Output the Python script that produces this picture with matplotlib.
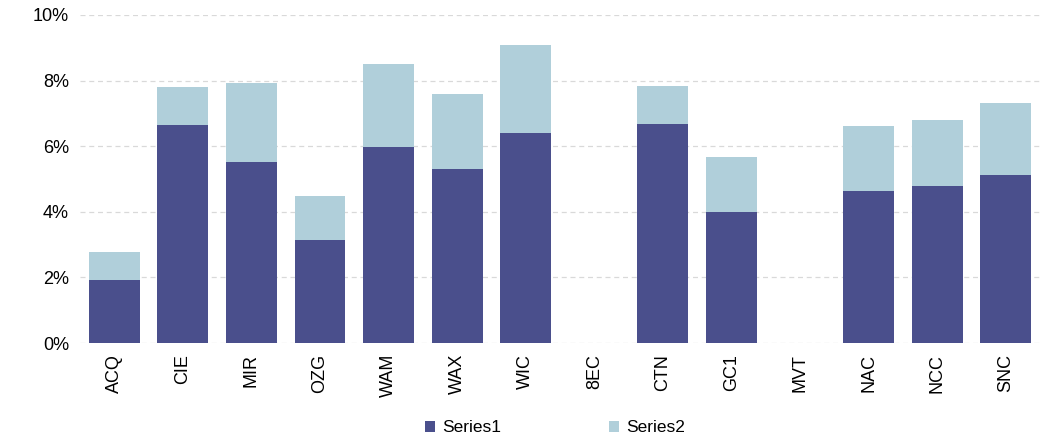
import matplotlib.pyplot as plt
import numpy as np
from matplotlib.ticker import PercentFormatter

plt.rcParams['font.family'] = ['Liberation Sans', 'DejaVu Sans']

# Valori (%)
categories = ['ACQ', 'CIE', 'MIR', 'OZG', 'WAM', 'WAX', 'WIC', '8EC', 'CTN', 'GC1', 'MVT', 'NAC', 'NCC', 'SNC']
series1 = [1.92, 6.65, 5.53, 3.14, 5.97, 5.30, 6.40, 0, 6.68, 3.99, 0, 4.63, 4.78, 5.12]
series2 = [0.85, 1.15, 2.40, 1.34, 2.53, 2.29, 2.69, 0, 1.16, 1.68, 0, 1.99, 2.02, 2.20]

fig = plt.figure(figsize=(10.53, 4.42), dpi=100)
ax = fig.add_axes([80 / 1053, 1 - 343 / 442, 960 / 1053, 328 / 442])

x = np.arange(len(categories))
ax.bar(x, series1, width=0.74, color='#4A4F8C', label='Series1', zorder=3)
ax.bar(x, series2, width=0.74, bottom=series1, color='#B0CFDA', label='Series2', zorder=3)

ax.set_xlim(-0.5, len(categories) - 0.5)
ax.set_ylim(0, 10)
ax.set_yticks(np.arange(0, 11, 2))
ax.yaxis.set_major_formatter(PercentFormatter(decimals=0))
ax.set_xticks(x)
ax.set_xticklabels(categories, rotation=90)
ax.tick_params(axis='both', length=0, labelsize=13, colors='black')
ax.tick_params(axis='y', pad=8)
ax.tick_params(axis='x', pad=8)
ax.grid(axis='y', color='#D9D9D9', linestyle=(0, (4, 3)), linewidth=0.9, zorder=0)
for s in ax.spines.values():
    s.set_visible(False)

fig.legend(loc='center', bbox_to_anchor=(0.527, 1 - 428 / 442), ncol=2, frameon=False,
           fontsize=12.5, handlelength=0.6, handleheight=0.6, columnspacing=6.2, handletextpad=0.4)

fig.savefig('out.png', dpi=100)
